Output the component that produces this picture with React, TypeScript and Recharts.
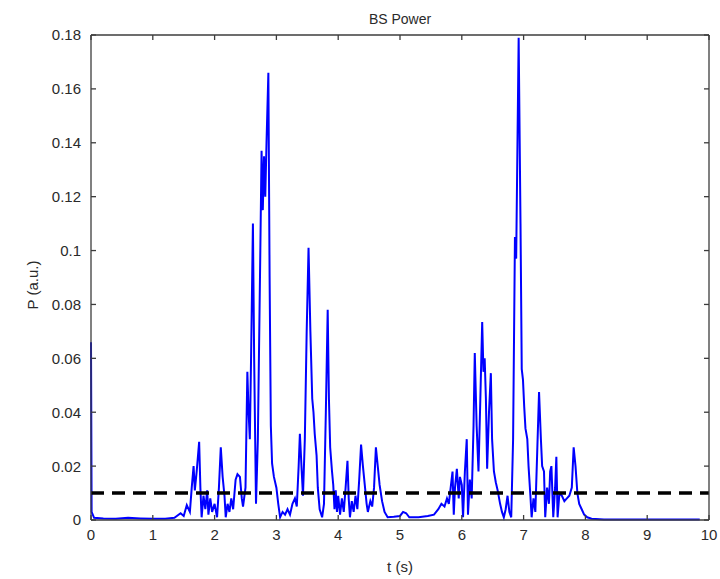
import { LineChart, Line, XAxis, YAxis, ReferenceLine, Label } from "recharts";

const timeTicks = [0, 1, 2, 3, 4, 5, 6, 7, 8, 9, 10];
const powerTicks = [0, 0.02, 0.04, 0.06, 0.08, 0.1, 0.12, 0.14, 0.16, 0.18];
const threshold = 0.01;

// samples are [t (s), P (a.u.)]
const quietStart: [number, number][] = [
  [0, 0.066], [0.01, 0.003], [0.05, 0.0008], [0.2, 0.0006], [0.4, 0.0005],
  [0.6, 0.0008], [0.8, 0.0006], [1.0, 0.0005], [1.2, 0.0005], [1.35, 0.0008],
];

const burstOne: [number, number][] = [
  [1.45, 0.0025], [1.5, 0.0015], [1.55, 0.0055], [1.6, 0.003], [1.63, 0.012],
  [1.66, 0.02], [1.68, 0.011], [1.71, 0.018], [1.75, 0.029], [1.77, 0.012],
  [1.79, 0.001], [1.82, 0.009], [1.85, 0.004], [1.88, 0.011], [1.9, 0.002],
  [1.93, 0.008], [1.96, 0.003], [2.0, 0.006], [2.04, 0.001], [2.07, 0.012],
  [2.1, 0.027], [2.13, 0.016], [2.16, 0.009], [2.18, 0.001], [2.21, 0.006],
  [2.24, 0.003], [2.27, 0.008], [2.3, 0.004], [2.34, 0.015], [2.37, 0.017],
  [2.41, 0.016], [2.44, 0.008], [2.46, 0.005], [2.5, 0.012], [2.53, 0.055],
  [2.55, 0.04], [2.57, 0.03], [2.59, 0.06], [2.62, 0.11], [2.64, 0.06],
  [2.67, 0.006], [2.7, 0.03], [2.74, 0.1], [2.76, 0.137], [2.78, 0.115],
  [2.8, 0.135], [2.82, 0.12], [2.84, 0.14], [2.87, 0.166], [2.89, 0.09],
  [2.91, 0.035], [2.93, 0.021], [2.96, 0.016], [3.0, 0.012], [3.03, 0.006],
  [3.06, 0.001], [3.1, 0.003], [3.14, 0.002], [3.18, 0.004], [3.22, 0.002],
  [3.26, 0.006], [3.3, 0.008], [3.33, 0.005], [3.36, 0.02], [3.38, 0.032],
  [3.41, 0.018], [3.43, 0.009], [3.46, 0.03], [3.49, 0.07], [3.52, 0.101],
  [3.55, 0.07], [3.58, 0.045], [3.6, 0.04], [3.62, 0.032], [3.65, 0.024],
  [3.67, 0.012], [3.7, 0.004], [3.74, 0.001], [3.77, 0.006], [3.8, 0.04],
  [3.83, 0.078], [3.85, 0.045], [3.87, 0.027], [3.9, 0.018], [3.92, 0.013],
  [3.94, 0.004], [3.96, 0.011], [3.98, 0.003], [4.0, 0.009], [4.03, 0.002],
  [4.06, 0.008], [4.09, 0.003], [4.12, 0.012], [4.15, 0.022], [4.17, 0.008],
  [4.19, 0.001], [4.22, 0.007], [4.25, 0.003], [4.28, 0.009], [4.31, 0.004],
  [4.34, 0.015], [4.37, 0.028], [4.4, 0.02], [4.43, 0.013], [4.46, 0.006],
  [4.48, 0.003], [4.52, 0.007], [4.55, 0.005], [4.58, 0.012], [4.61, 0.027],
  [4.64, 0.02], [4.67, 0.013], [4.71, 0.007], [4.75, 0.003],
];

const quietMid: [number, number][] = [
  [4.8, 0.001], [4.9, 0.0012], [5.0, 0.0015], [5.05, 0.003], [5.1, 0.0025],
  [5.15, 0.001], [5.3, 0.001], [5.45, 0.0015], [5.55, 0.002],
];

const burstTwo: [number, number][] = [
  [5.62, 0.004], [5.67, 0.006], [5.72, 0.005], [5.76, 0.008], [5.79, 0.006],
  [5.82, 0.012], [5.85, 0.018], [5.87, 0.002], [5.89, 0.012], [5.92, 0.019],
  [5.95, 0.008], [5.97, 0.016], [6.0, 0.013], [6.02, 0.001], [6.05, 0.018],
  [6.08, 0.03], [6.1, 0.002], [6.13, 0.015], [6.16, 0.008], [6.19, 0.035],
  [6.21, 0.062], [6.24, 0.035], [6.27, 0.018], [6.3, 0.045], [6.33, 0.0735],
  [6.35, 0.055], [6.37, 0.06], [6.39, 0.045], [6.41, 0.019], [6.44, 0.04],
  [6.47, 0.0545], [6.49, 0.03], [6.52, 0.018], [6.55, 0.014], [6.58, 0.011],
  [6.62, 0.006], [6.65, 0.003], [6.68, 0.001], [6.71, 0.004], [6.74, 0.009],
  [6.77, 0.003], [6.8, 0.001], [6.83, 0.03], [6.86, 0.105], [6.88, 0.097],
  [6.92, 0.179], [6.95, 0.11], [6.97, 0.056], [6.99, 0.052], [7.01, 0.042],
  [7.03, 0.034], [7.06, 0.03], [7.08, 0.02], [7.11, 0.009], [7.13, 0.001],
  [7.16, 0.008], [7.19, 0.003], [7.22, 0.025], [7.25, 0.0475], [7.28, 0.03],
  [7.3, 0.02], [7.33, 0.018], [7.35, 0.001], [7.38, 0.012], [7.41, 0.006],
  [7.43, 0.018], [7.45, 0.02], [7.48, 0.001], [7.51, 0.012], [7.53, 0.0235],
  [7.55, 0.001], [7.58, 0.01], [7.62, 0.009], [7.66, 0.007], [7.7, 0.008],
  [7.74, 0.009], [7.78, 0.012], [7.81, 0.027], [7.84, 0.02], [7.87, 0.01],
  [7.9, 0.006], [7.94, 0.004], [7.98, 0.002], [8.03, 0.001],
];

const quietEnd: [number, number][] = [
  [8.1, 0.0005], [8.3, 0.0002], [8.6, 0.0002], [9.0, 0.0002], [9.5, 0.0002],
  [9.85, 0.0002],
];

const data = [...quietStart, ...burstOne, ...quietMid, ...burstTwo, ...quietEnd].map(
  ([t, p]) => ({ t, p })
);

const AXIS = "#3c3c3c";
const FONT = "'Liberation Sans', Arial, sans-serif";
const TEXT = "#2a2a2a";

// plot box edges in chart pixels, used for the inward tick marks
const BOX = { left: 91, right: 709, top: 35, bottom: 520 };
const TICK_LEN = 5;

const fmt = (v: number) => String(Number(v.toFixed(2)));

function TimeTick({ x, y, payload }: any) {
  return (
    <g>
      <line x1={x} x2={x} y1={BOX.bottom} y2={BOX.bottom - TICK_LEN} stroke={AXIS} strokeWidth={1.3} />
      <line x1={x} x2={x} y1={BOX.top} y2={BOX.top + TICK_LEN} stroke={AXIS} strokeWidth={1.3} />
      <text x={x} y={y} dy="0.71em" textAnchor="middle" fontSize={15} fontFamily={FONT} fill={TEXT}>
        {payload.value}
      </text>
    </g>
  );
}

function PowerTick({ x, y, payload }: any) {
  return (
    <g>
      <line x1={BOX.left} x2={BOX.left + TICK_LEN} y1={y} y2={y} stroke={AXIS} strokeWidth={1.3} />
      <line x1={BOX.right} x2={BOX.right - TICK_LEN} y1={y} y2={y} stroke={AXIS} strokeWidth={1.3} />
      <text x={x} y={y} dy="0.36em" textAnchor="end" fontSize={15} fontFamily={FONT} fill={TEXT}>
        {fmt(payload.value)}
      </text>
    </g>
  );
}

function PowerLabel() {
  return (
    <text
      x={32}
      y={285}
      transform="rotate(-90 32 285)"
      textAnchor="middle"
      dominantBaseline="central"
      fontSize={15}
      fontFamily={FONT}
      fill={TEXT}
    >
      P (a.u.)
    </text>
  );
}

export default function App() {
  return (
    <div style={{ position: "absolute", left: 0, top: 0, width: 720, height: 579, background: "#fff" }}>
      <LineChart
        width={720}
        height={579}
        data={data}
        margin={{ top: BOX.top, right: 720 - BOX.right, bottom: 0, left: 0 }}
      >
        <XAxis
          dataKey="t"
          type="number"
          domain={[0, 10]}
          ticks={timeTicks}
          height={579 - BOX.bottom}
          tickLine={false}
          tickSize={0}
          tickMargin={9}
          tick={<TimeTick />}
          stroke={AXIS}
          strokeWidth={1.3}
        >
          <Label
            value="t (s)"
            position="insideBottom"
            offset={7}
            style={{ fontSize: 15, fill: TEXT, fontFamily: FONT }}
          />
        </XAxis>
        <YAxis
          type="number"
          domain={[0, 0.18]}
          ticks={powerTicks}
          width={BOX.left}
          tickLine={false}
          tickSize={0}
          tickMargin={10}
          tick={<PowerTick />}
          stroke={AXIS}
          strokeWidth={1.3}
        >
          <Label content={() => <PowerLabel />} />
        </YAxis>
        <Line
          type="linear"
          dataKey="p"
          stroke="#0000ff"
          strokeWidth={2}
          dot={false}
          isAnimationActive={false}
        />
        <ReferenceLine
          y={threshold}
          stroke="#000"
          strokeWidth={3.5}
          strokeDasharray="13 8"
        />
        {/* top and right edges of the box */}
        <ReferenceLine y={0.18} stroke={AXIS} strokeWidth={1.3}>
          <Label
            value="BS Power"
            position="top"
            offset={11}
            style={{ fontSize: 14, fill: TEXT, fontFamily: FONT }}
          />
        </ReferenceLine>
        <ReferenceLine x={10} stroke={AXIS} strokeWidth={1.3} />
      </LineChart>
    </div>
  );
}
